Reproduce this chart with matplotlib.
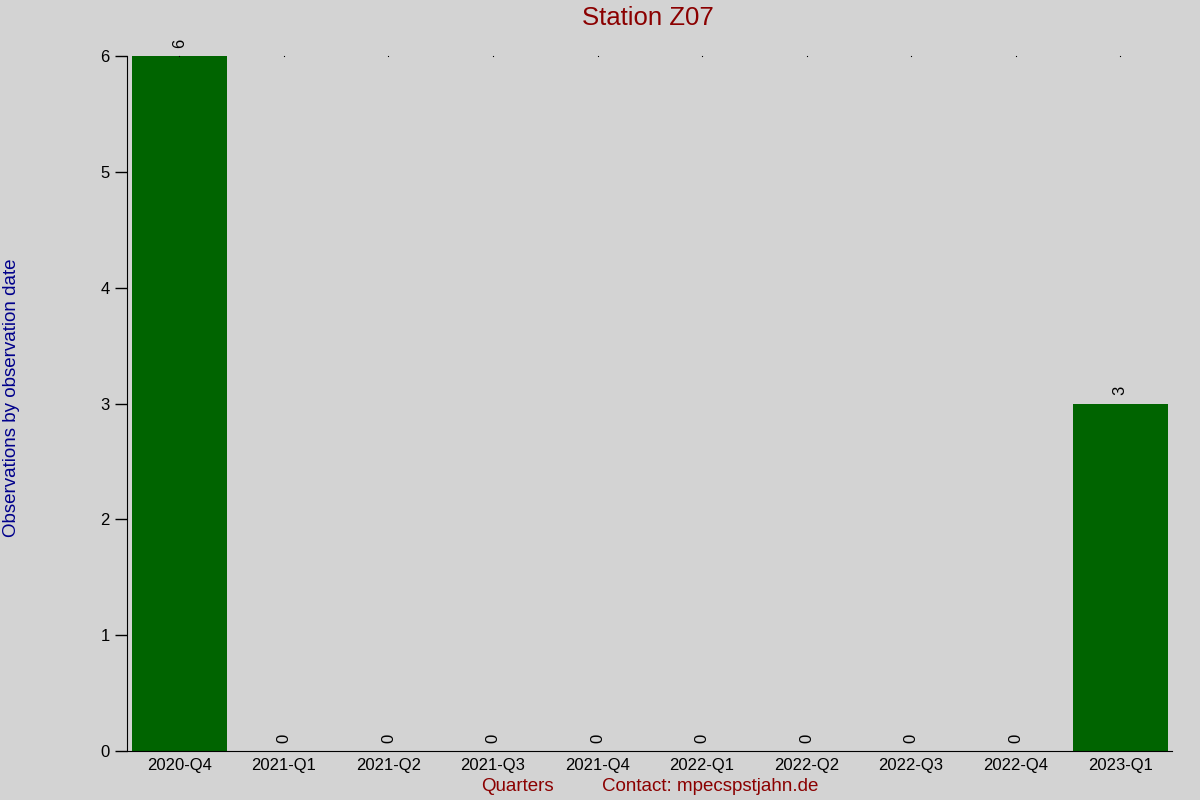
import matplotlib.pyplot as plt
import numpy as np

plt.rcParams['font.family'] = ['Liberation Sans', 'DejaVu Sans']

# data
quarters = ["2020-Q4", "2021-Q1", "2021-Q2", "2021-Q3", "2021-Q4",
            "2022-Q1", "2022-Q2", "2022-Q3", "2022-Q4", "2023-Q1"]
counts = [6, 0, 0, 0, 0, 0, 0, 0, 0, 3]

bg = "#d3d3d3"
fig = plt.figure(figsize=(12, 8), dpi=100, facecolor=bg)
ax = fig.add_axes([0.106, 0.061, 0.871, 0.869], facecolor=bg)

x = np.arange(len(quarters))
ax.bar(x, counts, width=0.91, color="#006400")
# tiny marks at the top of every column
ax.plot(x, [max(counts)] * len(x), linestyle="none", marker="s",
        markersize=0.8, markeredgewidth=0, color="black", clip_on=False)

for xi, c in zip(x, counts):
    ax.text(xi, c + 0.07, str(c), rotation=90, ha="center", va="bottom",
            fontsize=12, color="black")

ax.set_xlim(-0.5, len(quarters) - 0.5)
ax.set_ylim(0, max(counts))
ax.set_xticks(x)
ax.set_xticklabels(quarters, fontsize=12)
ax.set_yticks(range(0, max(counts) + 1))
ax.tick_params(axis="x", length=0, pad=5)
ax.tick_params(axis="y", length=9, width=1, labelsize=12, direction="out")
for s in ["top", "right"]:
    ax.spines[s].set_visible(False)

fig.text(0.54, 0.9775, "Station Z07", color="#8b0000", fontsize=18.5,
         ha="center", va="center")
fig.text(0.0095, 0.503, "Observations by observation date", color="#00008b",
         fontsize=13.5, rotation=90, ha="center", va="center")
fig.text(0.431, 0.017, "Quarters", color="#8b0000", fontsize=13.5,
         ha="center", va="center")
fig.text(0.592, 0.017, "Contact: mpecspstjahn.de", color="#8b0000",
         fontsize=13.5, ha="center", va="center")

plt.savefig("out.png", dpi=100, facecolor=bg)
